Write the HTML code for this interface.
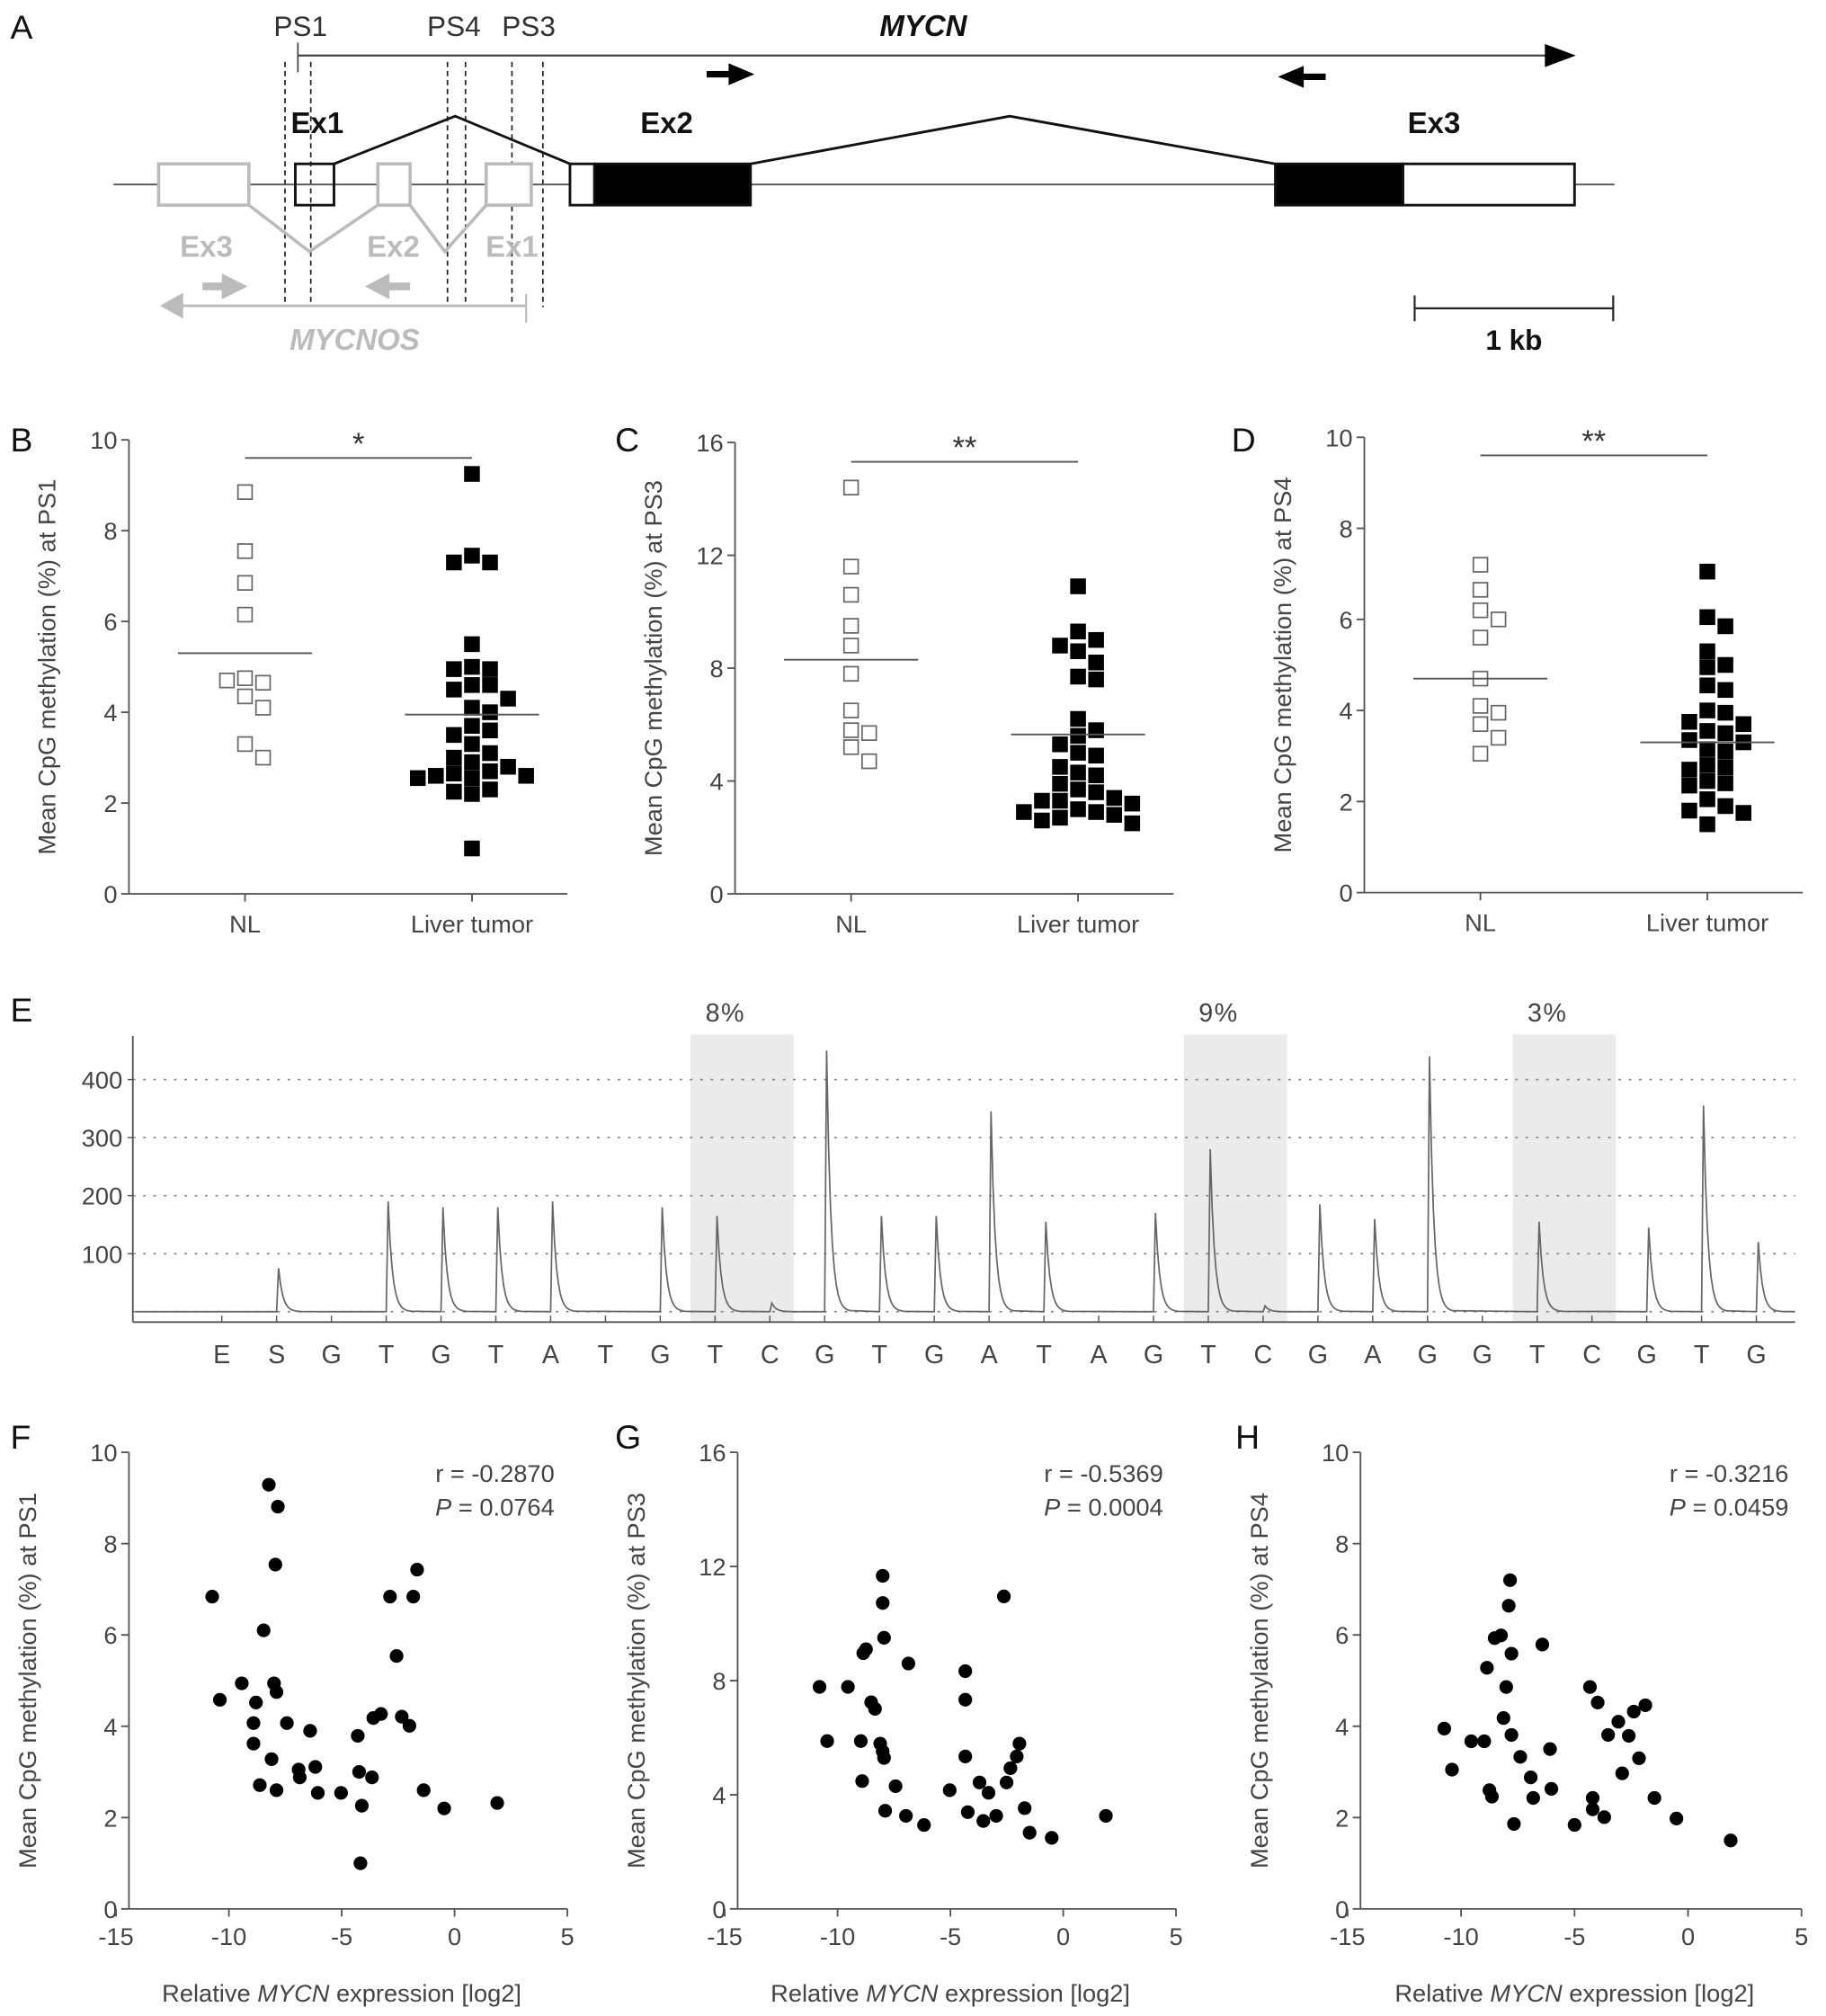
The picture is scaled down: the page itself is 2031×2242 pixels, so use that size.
<!DOCTYPE html>
<html><head><meta charset="utf-8"><style>
html,body{margin:0;padding:0;background:#fff}
svg{display:block}
text{font-family:"Liberation Sans",sans-serif}
</style></head><body>
<svg id="fig" width="2031" height="2242" viewBox="0 0 1416 1563" xmlns="http://www.w3.org/2000/svg">
<rect width="1416" height="1563" fill="#fff"/>
<g id="panelA" stroke-linecap="butt">
  <text x="8" y="30" font-size="26" fill="#111">A</text>
  <text x="233" y="28" font-size="22" fill="#333" text-anchor="middle">PS1</text>
  <text x="352" y="28" font-size="22" fill="#333" text-anchor="middle">PS4</text>
  <text x="410" y="28" font-size="22" fill="#333" text-anchor="middle">PS3</text>
  <text x="716" y="28" font-size="23" fill="#111" font-weight="bold" font-style="italic" text-anchor="middle">MYCN</text>
  <line x1="231" y1="43" x2="1200" y2="43" stroke="#444" stroke-width="1.5"/>
  <line x1="231" y1="33" x2="231" y2="56" stroke="#444" stroke-width="1.2"/>
  <polygon points="1198,34 1222,43 1198,52" fill="#000"/>
  <g><rect x="548" y="55" width="20" height="5" fill="#000"/><polygon points="565,49 585,57.5 565,66" fill="#000"/></g>
  <g><rect x="1008" y="57" width="20" height="5" fill="#000"/><polygon points="1011,51 991,59.5 1011,68" fill="#000"/></g>
  <g stroke="#222" stroke-width="1.2" stroke-dasharray="4,3">
    <line x1="221" y1="48" x2="221" y2="238"/><line x1="241" y1="48" x2="241" y2="238"/>
    <line x1="347" y1="48" x2="347" y2="238"/><line x1="361" y1="48" x2="361" y2="238"/>
    <line x1="397" y1="48" x2="397" y2="238"/><line x1="421" y1="48" x2="421" y2="238"/>
  </g>
  <line x1="88" y1="143" x2="1252" y2="143" stroke="#555" stroke-width="1.3"/>
  <g stroke="#bbb" stroke-width="2.5" fill="#fff">
    <rect x="123" y="127" width="70" height="32"/><rect x="293" y="127" width="25" height="32"/><rect x="377" y="127" width="35" height="32"/>
    <polyline points="193,159 240,195 293,159" fill="none"/><polyline points="318,159 345,195 377,159" fill="none"/>
  </g>
  <g font-size="23" font-weight="bold" fill="#bbb" text-anchor="middle">
    <text x="160" y="199">Ex3</text>
    <text x="305" y="199">Ex2</text>
    <text x="397" y="199">Ex1</text>
  </g>
  <g fill="#bbb">
    <rect x="157" y="219" width="18" height="6"/><polygon points="172,212 192,222 172,232"/>
    <rect x="298" y="219" width="20" height="6"/><polygon points="302,212 283,222 302,232"/>
  </g>
  <line x1="140" y1="237" x2="408" y2="237" stroke="#bbb" stroke-width="2"/>
  <line x1="408" y1="228" x2="408" y2="250" stroke="#bbb" stroke-width="1.5"/>
  <polygon points="142,227 124,237 142,247" fill="#bbb"/>
  <text x="275" y="271" font-size="23" font-weight="bold" font-style="italic" fill="#bbb" text-anchor="middle">MYCNOS</text>
  <g stroke="#111" stroke-width="2">
    <rect x="229" y="127" width="30" height="32" fill="none"/>
    <rect x="442" y="127" width="19" height="32" fill="#fff"/><rect x="461" y="127" width="121" height="32" fill="#000"/>
    <rect x="989" y="127" width="99" height="32" fill="#000"/><rect x="1088" y="127" width="133" height="32" fill="#fff"/>
    <polyline points="259,127 353,90 442,127" fill="none"/><polyline points="582,127 783,90 989,127" fill="none"/>
  </g>
  <g font-size="23" font-weight="bold" fill="#111" text-anchor="middle">
    <text x="246" y="103">Ex1</text>
    <text x="517" y="103">Ex2</text>
    <text x="1112" y="103">Ex3</text>
  </g>
  <g stroke="#222" stroke-width="1.5"><line x1="1097" y1="239" x2="1251" y2="239"/><line x1="1097" y1="229" x2="1097" y2="249"/><line x1="1251" y1="229" x2="1251" y2="249"/></g>
  <text x="1174" y="271" font-size="22" font-weight="bold" fill="#111" text-anchor="middle">1 kb</text>
</g>
<g id="charts"></g>
</svg>
<script>
// ---------- Data ----------
const groupCategories = ["NL", "Liver tumor"];
const psB_NL = [8.85, 7.55, 6.85, 6.15, 4.75, 4.65, 4.7, 4.35, 4.1, 3.3, 3.0];
const psB_Tumor = [9.25, 7.45, 7.3, 7.3, 5.5, 5.0, 4.95, 4.95, 4.6, 4.6, 4.5, 4.3, 4.1, 4.0, 3.7, 3.6, 3.5, 3.3, 3.1, 3.0, 2.9, 2.8, 2.7, 2.65, 2.6, 2.6, 2.55, 2.55, 2.3, 2.25, 2.2, 1.0];
const psC_NL = [14.4, 11.6, 10.6, 9.5, 8.8, 7.8, 6.5, 5.8, 5.7, 5.2, 4.7];
const psC_Tumor = [10.9, 9.3, 9.0, 8.8, 8.6, 8.2, 7.7, 7.6, 6.2, 5.8, 5.6, 5.3, 5.0, 4.9, 4.5, 4.3, 4.2, 3.9, 3.7, 3.6, 3.4, 3.3, 3.3, 3.2, 3.0, 2.9, 2.9, 2.8, 2.7, 2.6, 2.5];
const psD_NL = [7.2, 6.65, 6.2, 6.0, 5.6, 4.7, 4.1, 3.95, 3.7, 3.4, 3.05];
const psD_Tumor = [7.05, 6.05, 5.85, 5.3, 5.0, 4.95, 4.55, 4.45, 4.0, 3.95, 3.75, 3.7, 3.55, 3.5, 3.35, 3.3, 3.15, 3.1, 2.8, 2.75, 2.7, 2.45, 2.4, 2.35, 2.05, 1.9, 1.8, 1.75, 1.5];
const groupMeansB = [5.3, 3.95];
const groupMeansC = [8.3, 5.65];
const groupMeansD = [4.7, 3.3];
const ticks10 = [0, 2, 4, 6, 8, 10];
const ticks16 = [0, 4, 8, 12, 16];
const xTicksScatter = [-15, -10, -5, 0, 5];

const dispensation = ["E","S","G","T","G","T","A","T","G","T","C","G","T","G","A","T","A","G","T","C","G","A","G","G","T","C","G","T","G"];
const peakHeights = [0,75,0,190,180,180,190,0,180,165,15,450,165,165,345,155,0,170,280,10,185,160,440,0,155,0,145,355,120];
const pyroTicks = [100, 200, 300, 400];
const shadedIdx = [9, 18, 24];
const shadedLabels = ["8%", "9%", "3%"];

const fX = [-10.74,-10.4,-9.43,-8.91,-8.91,-8.8,-8.23,-8.46,-7.83,-7.94,-8.0,-7.89,-8.11,-8.63,-7.89,-7.43,-6.91,-6.86,-6.4,-6.17,-6.06,-5.03,-4.29,-4.23,-4.17,-4.11,-3.66,-3.6,-3.26,-2.86,-2.57,-2.34,-2.0,-1.83,-1.66,-1.37,-0.46,1.89];
const fY = [6.84,4.58,4.94,4.07,3.62,4.52,9.29,6.1,8.81,7.54,4.94,4.75,3.28,2.71,2.6,4.07,3.05,2.88,3.9,3.11,2.54,2.54,3.79,3.0,1.0,2.26,2.88,4.18,4.27,6.84,5.54,4.21,4.01,6.84,7.43,2.6,2.2,2.32];
const gX = [-10.8,-10.46,-9.54,-8.97,-8.86,-8.74,-8.91,-8.51,-8.34,-8.11,-8.0,-8.0,-7.94,-8.0,-7.89,-7.94,-7.43,-6.97,-6.86,-6.17,-5.03,-4.34,-4.34,-4.34,-4.23,-3.71,-3.54,-3.31,-2.97,-2.63,-2.51,-2.34,-2.06,-1.94,-1.71,-1.49,-0.51,1.89];
const gY = [7.78,5.88,7.78,5.88,8.96,9.1,4.48,7.24,7.01,5.79,11.67,10.72,9.5,5.52,3.44,5.29,4.3,3.26,8.6,2.94,4.16,8.33,7.33,5.34,3.39,4.43,3.08,4.07,3.26,10.95,4.43,4.93,5.34,5.79,3.53,2.67,2.49,3.26];
const hX = [-10.74,-10.4,-9.55,-8.98,-8.86,-8.75,-8.64,-8.52,-8.24,-8.13,-8.01,-7.9,-7.84,-7.78,-7.78,-7.67,-7.39,-6.93,-6.82,-6.42,-6.08,-6.02,-5.0,-4.32,-4.2,-4.2,-3.98,-3.69,-3.52,-3.07,-2.9,-2.61,-2.39,-2.16,-1.88,-1.48,-0.51,1.88];
const hY = [3.95,3.05,3.67,3.67,5.28,2.6,2.46,5.93,5.99,4.18,4.86,6.64,7.2,5.59,3.81,1.86,3.33,2.88,2.43,5.79,3.5,2.63,1.84,4.86,2.43,2.18,4.52,2.01,3.81,4.1,2.97,3.79,4.32,3.3,4.46,2.43,1.98,1.5];
const statsR = ["r = -0.2870", "r = -0.5369", "r = -0.3216"];
const statsP = ["= 0.0764", "= 0.0004", "= 0.0459"];

// ---------- Drawing ----------
const NS = "http://www.w3.org/2000/svg";
const root = document.getElementById("charts");
function mk(tag, attrs, parent, txt) {
  const e = document.createElementNS(NS, tag);
  for (const k in attrs) e.setAttribute(k, attrs[k]);
  if (txt !== undefined) e.textContent = txt;
  (parent || root).appendChild(e);
  return e;
}
const AX = "#555", TX = "#444";

function yAxis(g, x0, yBot, yTop, max, ticks, title, titleOff) {
  const sy = v => yBot - (v / max) * (yBot - yTop);
  const ax = mk("line", {x1: x0, y1: yBot, x2: x0, y2: yTop, stroke: AX, "stroke-width": 1.3}, g);
  
  
  ticks.forEach(t => {
    mk("line", {x1: x0 - 6, y1: sy(t), x2: x0, y2: sy(t), stroke: AX, "stroke-width": 1.3}, g);
    const tl = mk("text", {x: x0 - 9, y: sy(t) + 7, "font-size": 19, fill: TX, "text-anchor": "end"}, g, t);
    
    
  });
  const cy = (yBot + yTop) / 2;
  const tx = x0 - titleOff;
  const tt = mk("text", {x: tx, y: cy, "font-size": 19, fill: TX, "text-anchor": "middle", transform: `rotate(-90 ${tx} ${cy})`}, g, title);
  
  
  return sy;
}

function dotPanel(cfg) {
  const g = mk("g", {});
  
  
  const pl = mk("text", {x: cfg.lx, y: cfg.ly, "font-size": 26, fill: "#111"}, g, cfg.label);
  
  
  const sy = yAxis(g, cfg.x0, cfg.yBot, cfg.yTop, cfg.max, cfg.ticks, cfg.title, 57);
  const xa = mk("line", {x1: cfg.x0, y1: cfg.yBot, x2: cfg.x0 + 340, y2: cfg.yBot, stroke: AX, "stroke-width": 1.3}, g);
  
  
  const cx = [cfg.x0 + 90, cfg.x0 + 266];
  groupCategories.forEach((c, i) => {
    mk("line", {x1: cx[i], y1: cfg.yBot, x2: cx[i], y2: cfg.yBot + 6, stroke: AX, "stroke-width": 1.3}, g);
    const t = mk("text", {x: cx[i], y: cfg.yBot + 30, "font-size": 19, fill: TX, "text-anchor": "middle"}, g, c);
    
    
  });
  [cfg.nl, cfg.tu].forEach((vals, gi) => {
    const placed = [];
    vals.forEach(v => {
      const y = sy(v);
      let off = 0;
      for (let k = 0; k < 30; k++) {
        const o = k === 0 ? 0 : (k % 2 ? 1 : -1) * Math.ceil(k / 2) * 14;
        if (placed.every(p => Math.abs(p[1] - y) >= 12 || Math.abs(p[0] - o) >= 14)) { off = o; break; }
      }
      placed.push([off, y]);
      const r = mk("rect", {x: cx[gi] + off - 5.5, y: y - 5.5, width: 11, height: 11,
        fill: gi ? "#000" : "#fff", stroke: gi ? "#000" : "#666", "stroke-width": 1.2}, g);
      
      
    });
    const m = mk("line", {x1: cx[gi] - 52, x2: cx[gi] + 52, y1: sy(cfg.means[gi]), y2: sy(cfg.means[gi]), stroke: "#555", "stroke-width": 1.3}, g);
    
    
  });
  const br = mk("line", {x1: cx[0], x2: cx[1], y1: cfg.sigY, y2: cfg.sigY, stroke: "#555", "stroke-width": 1.3}, g);
  
  
  const st = mk("text", {x: (cx[0] + cx[1]) / 2, y: cfg.sigY - 3, "font-size": 24, fill: "#333", "text-anchor": "middle"}, g, cfg.sig);
  
  
}

dotPanel({name: "panel-b-ps1", label: "B", lx: 8, ly: 350, x0: 100, yBot: 693, yTop: 341, max: 10, ticks: ticks10, title: "Mean CpG methylation (%) at PS1", nl: psB_NL, tu: psB_Tumor, means: groupMeansB, sigY: 355, sig: "*"});
dotPanel({name: "panel-c-ps3", label: "C", lx: 477, ly: 350, x0: 570, yBot: 693, yTop: 343, max: 16, ticks: ticks16, title: "Mean CpG methylation (%) at PS3", nl: psC_NL, tu: psC_Tumor, means: groupMeansC, sigY: 358, sig: "**"});
dotPanel({name: "panel-d-ps4", label: "D", lx: 955, ly: 350, x0: 1058, yBot: 692, yTop: 339, max: 10, ticks: ticks10, title: "Mean CpG methylation (%) at PS4", nl: psD_NL, tu: psD_Tumor, means: groupMeansD, sigY: 353, sig: "**"});

// ---------- Pyrogram ----------
(function () {
  const g = mk("g", {});
  
  
  const pl = mk("text", {x: 8, y: 792, "font-size": 26, fill: "#111"}, g, "E");
  
  
  const x0 = 103, xEnd = 1392, yBase = 1017, yAxisBot = 1025;
  const sy = v => yBase - v * 0.45;
  const sx = i => 172 + i * (1362 - 172) / 28;
  shadedIdx.forEach((i, k) => {
    const r = mk("rect", {x: sx(i) - 19, y: 802, width: 80, height: yAxisBot - 802, fill: "#ebebeb"}, g);
    
    
    const t = mk("text", {x: sx(i) + 8, y: 792, "font-size": 20, fill: TX, "text-anchor": "middle", "letter-spacing": 1}, g, shadedLabels[k]);
    
    
  });
  [0].concat(pyroTicks).forEach(t => {
    mk("line", {x1: x0, x2: xEnd, y1: sy(t), y2: sy(t), stroke: "#888", "stroke-width": 1.2, "stroke-dasharray": "2,6"}, g);
  });
  pyroTicks.forEach(t => {
    mk("line", {x1: x0 - 4, x2: x0, y1: sy(t), y2: sy(t), stroke: AX}, g);
    const tl = mk("text", {x: x0 - 8, y: sy(t) + 7, "font-size": 19, fill: TX, "text-anchor": "end"}, g, t);
    
    
  });
  const ya = mk("line", {x1: x0, y1: 803, x2: x0, y2: yAxisBot, stroke: AX, "stroke-width": 1.3}, g);
  
  
  const xa = mk("line", {x1: x0, y1: yAxisBot, x2: xEnd, y2: yAxisBot, stroke: AX, "stroke-width": 1.3}, g);
  
  
  let d = `M${x0 + 2},${yBase}`;
  dispensation.forEach((L, i) => {
    const x = sx(i);
    mk("line", {x1: x, x2: x, y1: yAxisBot, y2: yAxisBot - 5, stroke: AX}, g);
    const t = mk("text", {x: x, y: 1057, "font-size": 20, fill: TX, "text-anchor": "middle"}, g, L);
    
    
    const h = peakHeights[i];
    if (h > 0) {
      d += ` L${x},${yBase} L${x + 1.5},${sy(h)}`;
      for (let s = 1; s <= 12; s++) d += ` L${(x + 1.5 + s * 1.5).toFixed(1)},${(yBase - h * 0.45 * Math.exp(-s / 2.2)).toFixed(1)}`;
    }
  });
  d += ` L${xEnd},${yBase}`;
  const tr = mk("path", {d: d, fill: "none", stroke: "#666", "stroke-width": 1.2}, g);
  
  
})();

// ---------- Scatter panels ----------
function scatter(cfg) {
  const g = mk("g", {});
  
  
  const pl = mk("text", {x: cfg.lx, y: 1123, "font-size": 26, fill: "#111"}, g, cfg.label);
  
  
  const yBot = 1480, yTop = 1126;
  const sy = yAxis(g, cfg.yx, yBot, yTop, cfg.max, cfg.ticks, cfg.title, 72);
  const sx = v => cfg.xm15 + (v + 15) * (cfg.x5 - cfg.xm15) / 20;
  const xa = mk("line", {x1: cfg.yx, y1: yBot, x2: cfg.x5, y2: yBot, stroke: AX, "stroke-width": 1.3}, g);
  
  
  xTicksScatter.forEach(t => {
    mk("line", {x1: sx(t), x2: sx(t), y1: yBot, y2: yBot + 6, stroke: AX, "stroke-width": 1.3}, g);
    const tl = mk("text", {x: sx(t), y: yBot + 28, "font-size": 19, fill: TX, "text-anchor": "middle"}, g, t);
    
    
  });
  const xt = mk("text", {x: (cfg.xm15 + cfg.x5) / 2, y: 1552, "font-size": 19, fill: TX, "text-anchor": "middle"}, g);
  
  
  mk("tspan", {}, xt, "Relative ");
  mk("tspan", {"font-style": "italic"}, xt, "MYCN");
  mk("tspan", {}, xt, " expression [log2]");
  cfg.xs.forEach((v, i) => {
    const c = mk("circle", {cx: sx(v), cy: sy(cfg.ys[i]), r: 5.3, fill: "#000"}, g);
    
    
  });
  const r = mk("text", {x: cfg.x5 - 10, y: 1149, "font-size": 19, fill: TX, "text-anchor": "end"}, g, statsR[cfg.k]);
  
  
  const p = mk("text", {x: cfg.x5 - 10, y: 1175, "font-size": 19, fill: TX, "text-anchor": "end"}, g);
  
  
  mk("tspan", {"font-style": "italic"}, p, "P");
  mk("tspan", {}, p, " " + statsP[cfg.k]);
}
scatter({name: "panel-f-ps1-scatter", label: "F", lx: 8, yx: 100, xm15: 90, x5: 440, max: 10, ticks: ticks10, title: "Mean CpG methylation (%) at PS1", xs: fX, ys: fY, k: 0});
scatter({name: "panel-g-ps3-scatter", label: "G", lx: 477, yx: 572, xm15: 562, x5: 912, max: 16, ticks: ticks16, title: "Mean CpG methylation (%) at PS3", xs: gX, ys: gY, k: 1});
scatter({name: "panel-h-ps4-scatter", label: "H", lx: 958, yx: 1055, xm15: 1045, x5: 1397, max: 10, ticks: ticks10, title: "Mean CpG methylation (%) at PS4", xs: hX, ys: hY, k: 2});
</script>
</body></html>
